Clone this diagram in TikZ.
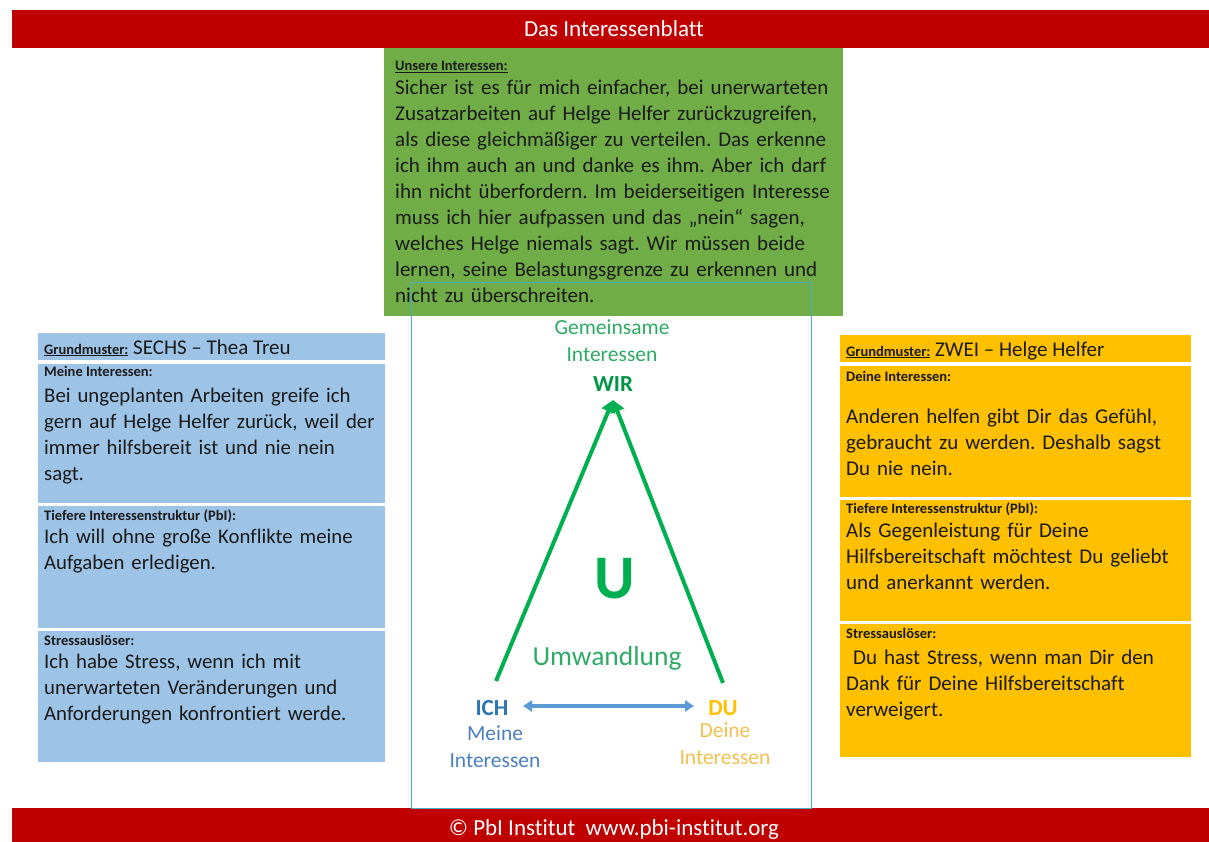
\documentclass[tikz,border=0pt]{standalone}
\usepackage{fontspec}
\setmainfont{Carlito}[Ligatures=NoCommon]
\usetikzlibrary{arrows.meta}
\definecolor{pbired}{HTML}{C00000}
\definecolor{pbigreen}{HTML}{70AD47}
\definecolor{pbiblue}{HTML}{9DC3E6}
\definecolor{pbiorange}{HTML}{FFC000}
\definecolor{pbicyan}{HTML}{4BACC6}
\definecolor{trigreen}{HTML}{00B050}
\definecolor{txtgreen}{HTML}{2EAA66}
\definecolor{arrblue}{HTML}{5B9BD5}
\definecolor{ichblue}{HTML}{2E75B6}
\definecolor{meineblue}{HTML}{4A80C0}
\definecolor{deineorange}{HTML}{F2C14E}
\definecolor{txtdark}{HTML}{1A1A1A}
\begin{document}
\frenchspacing
\begin{tikzpicture}[x=1pt,y=-1pt,
  body/.style={anchor=base west, inner sep=0, text width=480pt, align=left, text=txtdark, font=\fontsize{21}{26}\selectfont\frenchspacing},
  bodyl/.style={body, font=\fontsize{20.8}{26}\selectfont\frenchspacing},
  lab/.style={anchor=base west, inner sep=0, text=txtdark, font=\fontsize{14.5}{16}\selectfont\bfseries},
  hdr/.style={anchor=base west, inner sep=0, text=txtdark, font=\fontsize{21}{24}\selectfont},
  ctr/.style={inner sep=0, anchor=base},
  trileg/.style={draw=trigreen, line width=4pt, -{Triangle[width=14pt,length=12pt]}},
  duarrow/.style={draw=arrblue, line width=3.5pt, {Triangle[width=11pt,length=9pt]}-{Triangle[width=11pt,length=9pt]}}
]
\useasboundingbox (0,0) rectangle (1209,842);
\fill[white] (0,0) rectangle (1209,842);

% top and bottom bars
\fill[pbired] (12,10) rectangle (1209,48);
\node[ctr, text=white, font=\fontsize{23}{26}\selectfont] (title) at (614,37) {Das Interessenblatt};
\fill[pbired] (12,808) rectangle (1209,842);
\node[ctr, text=white, font=\fontsize{23}{26}\selectfont] (footer) at (614,835) {© PbI Institut\ \ www.pbi-institut.org};

% green box
\fill[pbigreen] (384,48) rectangle (843,316);
\node[lab] (glab) at (395,71) {\underline{Unsere Interessen:}};
\node[body] (gtext) at (395,95) {Sicher ist es für mich einfacher, bei unerwarteten\\Zusatzarbeiten auf Helge Helfer zurückzugreifen,\\als diese gleichmäßiger zu verteilen. Das erkenne\\ich ihm auch an und danke es ihm. Aber ich darf\\ihn nicht überfordern. Im beiderseitigen Interesse\\muss ich hier aufpassen und das „nein“ sagen,\\welches Helge niemals sagt. Wir müssen beide\\lernen, seine Belastungsgrenze zu erkennen und\\nicht zu überschreiten.};

% left blue panels
\fill[pbiblue] (38,333) rectangle (385,360);
\fill[pbiblue] (38,364) rectangle (385,503);
\fill[pbiblue] (38,506) rectangle (385,628);
\fill[pbiblue] (38,631) rectangle (385,762);
\node[hdr] (lhdr) at (44,354) {{\fontsize{14.5}{16}\selectfont\bfseries\underline{Grundmuster:}} SECHS -- Thea Treu};
\node[lab] (l1lab) at (44,376) {Meine Interessen:};
\node[bodyl] (l1) at (44,402) {Bei ungeplanten Arbeiten greife ich\\gern auf Helge Helfer zurück, weil der\\immer hilfsbereit ist und nie nein\\sagt.};
\node[lab] (l2lab) at (44,520) {Tiefere Interessenstruktur (PbI):};
\node[bodyl] (l2) at (44,543) {Ich will ohne große Konflikte meine\\Aufgaben erledigen.};
\node[lab] (l3lab) at (44,645) {Stressauslöser:};
\node[bodyl] (l3) at (44,668) {Ich habe Stress, wenn ich mit\\unerwarteten Veränderungen und\\Anforderungen konfrontiert werde.};

% right orange panels
\fill[pbiorange] (840,335) rectangle (1191,362);
\fill[pbiorange] (840,366) rectangle (1191,497);
\fill[pbiorange] (840,500) rectangle (1191,621);
\fill[pbiorange] (840,624) rectangle (1191,757);
\node[hdr] (rhdr) at (846,356) {{\fontsize{14.5}{16}\selectfont\bfseries\underline{Grundmuster:}} ZWEI -- Helge Helfer};
\node[lab] (r1lab) at (846,381) {Deine Interessen:};
\node[body] (r1) at (846,423) {Anderen helfen gibt Dir das Gefühl,\\gebraucht zu werden. Deshalb sagst\\Du nie nein.};
\node[lab] (r2lab) at (846,513) {Tiefere Interessenstruktur (PbI):};
\node[body] (r2) at (846,537) {Als Gegenleistung für Deine\\Hilfsbereitschaft möchtest Du geliebt\\und anerkannt werden.};
\node[lab] (r3lab) at (846,638) {Stressauslöser:};
\node[body] (r3) at (846,664) {\ Du hast Stress, wenn man Dir den\\Dank für Deine Hilfsbereitschaft\\verweigert.};

% cyan frame
\draw[pbicyan, line width=1pt] (411,282) rectangle (811,808);

% centre diagram
\node[ctr, text=txtgreen, font=\fontsize{21.5}{24}\selectfont] (gem1) at (612,334) {Gemeinsame};
\node[ctr, text=txtgreen, font=\fontsize{21.5}{24}\selectfont] (gem2) at (612,361) {Interessen};
\node[ctr, text=trigreen!85!black, font=\fontsize{23}{26}\selectfont\bfseries] (wir) at (613,391) {WIR};
\coordinate (apex) at (613,400);
\coordinate (ichtop) at (496,681);
\coordinate (dutop) at (723,683);
\draw[trileg] (ichtop) -- (apex);
\draw[trileg] (dutop) -- (apex);
\node[ctr, text=trigreen, font=\fontsize{62}{64}\selectfont\bfseries] (u) at (615,598) {U};
\node[ctr, text=txtgreen, font=\fontsize{27.5}{30}\selectfont] (umw) at (607,665) {Umwandlung};

\node[ctr, text=ichblue, font=\fontsize{23}{26}\selectfont\bfseries] (ich) at (492,715) {ICH};
\node[ctr, text=meineblue, font=\fontsize{21.5}{24}\selectfont] (meine1) at (495,740) {Meine};
\node[ctr, text=meineblue, font=\fontsize{21.5}{24}\selectfont] (meine2) at (495,767) {Interessen};
\node[ctr, text=pbiorange, font=\fontsize{23}{26}\selectfont\bfseries] (du) at (723,715) {DU};
\node[ctr, text=deineorange, font=\fontsize{21.5}{24}\selectfont] (deine1) at (725,737) {Deine};
\node[ctr, text=deineorange, font=\fontsize{21.5}{24}\selectfont] (deine2) at (725,764) {Interessen};
\coordinate (arrL) at (523,706);
\coordinate (arrR) at (694,706);
\draw[duarrow] (arrL) -- (arrR);
\end{tikzpicture}
\end{document}
